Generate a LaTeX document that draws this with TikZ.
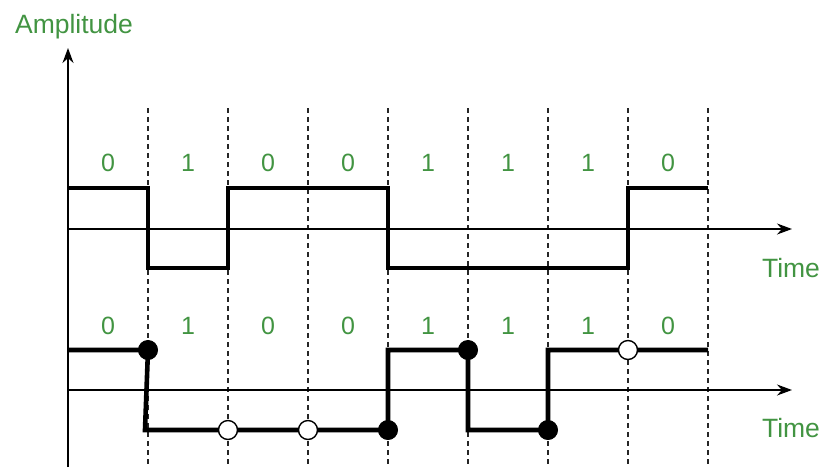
\documentclass[tikz,border=0pt]{standalone}
\usepackage{fontspec}
\setmainfont{Liberation Sans}
\usetikzlibrary{arrows.meta,positioning}
\definecolor{bitgreen}{RGB}{66,148,66}
\tikzset{
  axis/.style  = {-{Stealth[length=15pt,width=11pt]}, line width=1.5pt, black},
  sig/.style   = {line width=4.6pt, black},
  slot/.style  = {dash pattern=on 5pt off 4pt, line width=1.2pt, black!85},
  bit/.style   = {text=bitgreen, font=\fontsize{25}{30}\selectfont, inner sep=0pt},
  lbl/.style   = {text=bitgreen, font=\fontsize{26.5}{31}\selectfont, inner sep=0pt},
  hit/.style   = {circle, fill=black, draw=black, line width=1pt,
                  minimum size=19pt, inner sep=0pt},
  miss/.style  = {circle, fill=white, draw=black, line width=1.4pt,
                  minimum size=19pt, inner sep=0pt},
}

\begin{document}
\begin{tikzpicture}[x=1pt, y=-1pt]
  \useasboundingbox (0,0) rectangle (823,467);

  % bit slots and labels
  \foreach \b [count=\i] in {0,1,0,0,1,1,1,0} {
    \draw[slot] (68+80*\i,108) -- (68+80*\i,467);
    \node[bit] (top\i) at (28+80*\i,163) {\b};
    \node[bit] (bot\i) at (28+80*\i,326) {\b};
  }

  % axes
  \coordinate (orig) at (68,467);
  \coordinate (ytip) at (68,48);
  \coordinate (a0) at (68,229);
  \coordinate (a1) at (792,229);
  \coordinate (b0) at (68,390);
  \coordinate (b1) at (792,390);
  \draw[axis] (orig) -- (ytip);
  \draw[axis] (a0) -- (a1);
  \draw[axis] (b0) -- (b1);
  \node[lbl] (amp) at (74,27) {Amplitude};
  \node[lbl] (time1) at (791,268) {Time};
  \node[lbl] (time2) at (791,428) {Time};

  % upper signal
  \draw[sig] (68,188) -| (148,268) -| (228,188) -| (388,268) -| (628,188) -- (708,188);

  % lower signal
  \draw[sig] (68,350) -- (148,350) -- (145,430) -- (388,430) -- (388,350)
             -| (468,430) -| (548,350) -- (708,350);

  % transitions
  \node[hit]  (d1) at (148,350) {};
  \node[miss] (d2) at (228,430) {};
  \node[miss] (d3) at (308,430) {};
  \node[hit]  (d4) at (388,430) {};
  \node[hit]  (d5) at (468,350) {};
  \node[hit]  (d6) at (548,430) {};
  \node[miss] (d7) at (628,350) {};
\end{tikzpicture}
\end{document}
